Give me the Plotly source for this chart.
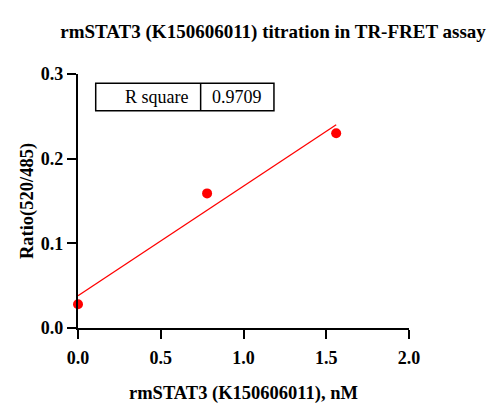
import numpy as np
import plotly.graph_objects as go

concentration_nM = [0.0, 0.78, 1.56]
ratio_520_485 = [0.028, 0.159, 0.230]
r_square_label = "R square"
r_square_value = "0.9709"
x_ticks = [0, 0.5, 1.0, 1.5, 2.0]
y_ticks = [0.0, 0.1, 0.2, 0.3]

slope, intercept = np.polyfit(concentration_nM, ratio_520_485, 1)
fit_x = [min(concentration_nM), max(concentration_nM)]
fit_y = [intercept + slope * v for v in fit_x]

FONT = "Liberation Serif, Times New Roman, serif"

fig = go.Figure()
fig.add_trace(go.Scatter(x=fit_x, y=fit_y, mode="lines",
                         line=dict(color="#ff0000", width=1.3),
                         cliponaxis=False, showlegend=False))
fig.add_trace(go.Scatter(x=concentration_nM, y=ratio_520_485, mode="markers",
                         marker=dict(color="#ff0000", size=10),
                         cliponaxis=False, showlegend=False))

# R square table
tx0, tx1, tdiv, ty0, ty1 = 0.107, 1.184, 0.741, 0.2565, 0.289
fig.add_shape(type="rect", x0=tx0, x1=tx1, y0=ty0, y1=ty1, xref="x", yref="y",
              line=dict(color="black", width=1.5), fillcolor="white")
fig.add_shape(type="line", x0=tdiv, x1=tdiv, y0=ty0, y1=ty1, xref="x", yref="y",
              line=dict(color="black", width=1.5))
fig.add_annotation(x=tdiv - 0.065, y=(ty0 + ty1) / 2, xref="x", yref="y",
                   text=r_square_label, showarrow=False, xanchor="right",
                   font=dict(family=FONT, size=18, color="black"))
fig.add_annotation(x=(tdiv + tx1) / 2, y=(ty0 + ty1) / 2, xref="x", yref="y",
                   text=r_square_value, showarrow=False, xanchor="center",
                   font=dict(family=FONT, size=18, color="black"))

axis_common = dict(showgrid=False, zeroline=False, showline=True, linecolor="black",
                   linewidth=2.2, ticks="outside", tickwidth=2.2, ticklen=9, tickcolor="black",
                   automargin=False,
                   tickfont=dict(family=FONT, size=18, color="black"))

fig.update_layout(
    width=500, height=420,
    margin=dict(l=70, r=99, t=66, b=100),
    paper_bgcolor="white", plot_bgcolor="white",
    title=dict(text="<b>rmSTAT3 (K150606011) titration in TR-FRET assay</b>",
               x=0.53, xanchor="center", y=1 - 23 / 420, yanchor="middle",
               font=dict(family=FONT, size=19, color="black")),
    xaxis=dict(range=[0, 2], tickvals=x_ticks,
               ticktext=[f"<b>{v:.1f}</b>" for v in x_ticks],
               ticklabelstandoff=3,
               title=dict(text="<b>rmSTAT3 (K150606011), nM</b>", standoff=19,
                          font=dict(family=FONT, size=18.5, color="black")),
               **axis_common),
    yaxis=dict(range=[0, 0.3], tickvals=y_ticks,
               ticktext=[f"<b>{v:.1f}</b>" for v in y_ticks],
               title=dict(text="<b>Ratio(520/485)</b>", standoff=2,
                          font=dict(family=FONT, size=18.5, color="black")),
               **axis_common),
)

fig.write_html("out.html")
